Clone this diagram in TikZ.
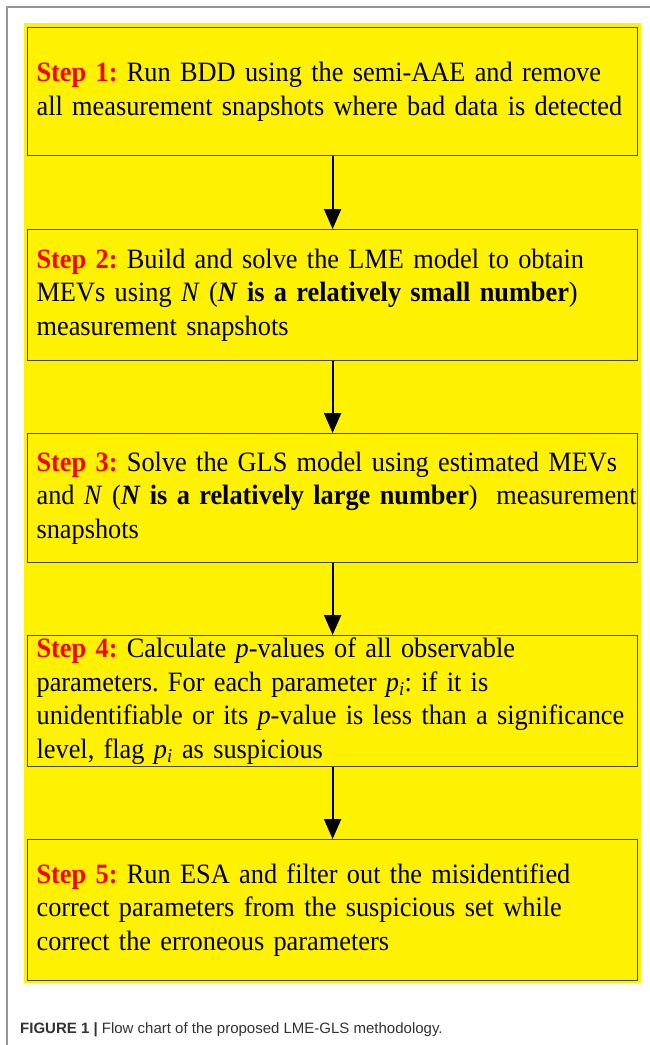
\documentclass[tikz,border=0pt]{standalone}
\usepackage{fontspec}
\setmainfont{Liberation Serif}[FakeStretch=0.94]
\newfontfamily\capfont{Liberation Sans}
\usetikzlibrary{arrows.meta}

\definecolor{boxline}{RGB}{70,70,20}
\definecolor{framegray}{RGB}{150,150,150}
\definecolor{captext}{RGB}{50,50,50}

\tikzset{
  stepbox/.style={draw=boxline, line width=1.2pt, fill=yellow, anchor=north west,
    minimum width=610pt, text width=592pt, inner xsep=9pt, inner ysep=1pt,
    align=left, font=\fontsize{28}{33.5}\selectfont\frenchspacing},
  flowarrow/.style={-{Triangle[width=17pt,length=20pt]}, line width=2pt}
}
\newcommand{\steplabel}[1]{\textcolor{red}{\textbf{Step #1:}}}

\begin{document}
\begin{tikzpicture}[x=1pt, y=-1pt]
  \useasboundingbox (0,0) rectangle (650,1045);

  % Page frame
  \draw[framegray, line width=1.5pt] (7,1045) -- (7,7) -- (650,7);

  % Yellow background
  \fill[yellow] (24,23) rectangle (641,983);

  % Step boxes
  \node[stepbox, minimum height=128pt] (s1) at (27,27)
    {\steplabel{1} Run BDD using the semi-AAE and remove\\
     \mbox{all measurement snapshots where bad data is detected}};
  \node[stepbox, minimum height=131pt] (s2) at (27,229)
    {\steplabel{2} Build and solve the LME model to obtain\\
     MEVs using \textit{N} (\textbf{\textit{N} is a relatively small number})\\
     measurement snapshots};
  \node[stepbox, minimum height=129pt] (s3) at (27,433)
    {\mbox{\steplabel{3} Solve the GLS model using estimated MEVs}\\
     \mbox{and \textit{N} (\textbf{\textit{N} is a relatively large number})\ \ measurement}\\
     snapshots};
  \node[stepbox, minimum height=131pt] (s4) at (27,635)
    {\steplabel{4} Calculate \textit{p}-values of all observable\\
     parameters. For each parameter \textit{p\textsubscript{i}}: if it is\\
     \mbox{unidentifiable or its \textit{p}-value is less than a significance}\\
     level, flag \textit{p\textsubscript{i}} as suspicious};
  \node[stepbox, minimum height=141pt] (s5) at (27,839)
    {\steplabel{5} Run ESA and filter out the misidentified\\
     correct parameters from the suspicious set while\\
     correct the erroneous parameters};

  % Arrows between steps
  \foreach \a/\b in {s1/s2, s2/s3, s3/s4, s4/s5}
    \draw[flowarrow] (\a.south) -- (\b.north);

  % Caption
  \node[anchor=base west, inner sep=0pt, text=captext, font=\capfont\fontsize{15}{18}\selectfont] (cap) at (20,1033)
    {\textbf{FIGURE 1 |} Flow chart of the proposed LME-GLS methodology.};

\end{tikzpicture}
\end{document}
